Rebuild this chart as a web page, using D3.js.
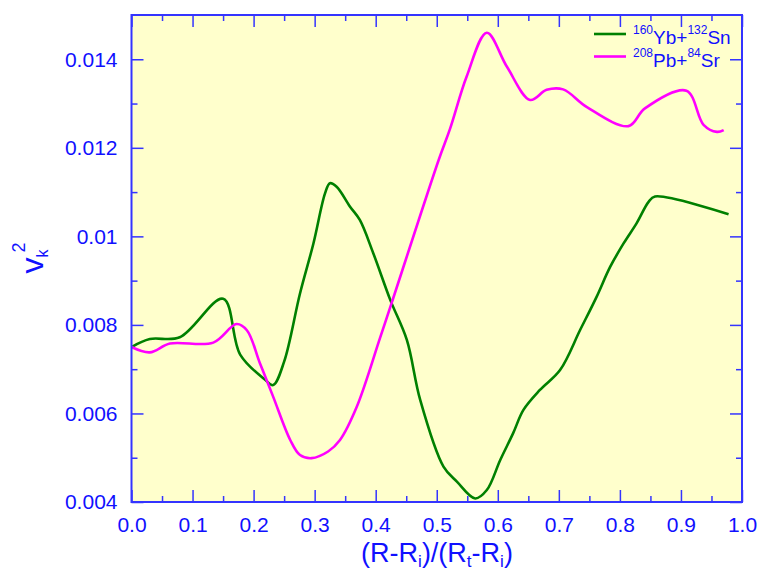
<!DOCTYPE html>
<html>
<head>
<meta charset="utf-8">
<script src="https://cdn.jsdelivr.net/npm/d3@7"></script>
<style>
  html, body { margin: 0; padding: 0; background: #ffffff; }
  svg { display: block; }
  text { font-family: "Liberation Sans", Arial, sans-serif; }
</style>
</head>
<body>
<svg id="chart" width="757" height="574"></svg>
<script>
// ---------- data ----------
const ybX = [0, 0.03, 0.079, 0.150, 0.178, 0.219, 0.232, 0.250, 0.276, 0.298, 0.317, 0.325, 0.336, 0.358, 0.374, 0.396, 0.424, 0.451, 0.473, 0.511, 0.533, 0.563, 0.582, 0.604, 0.625, 0.642, 0.669, 0.702, 0.735, 0.762, 0.784, 0.806, 0.8275, 0.847, 0.8575, 0.978];
const ybY = [0.00750, 0.00768, 0.00772, 0.00859, 0.00733, 0.00676, 0.00664, 0.00717, 0.00871, 0.00984, 0.01097, 0.01120, 0.01112, 0.01067, 0.01037, 0.00962, 0.00856, 0.00766, 0.00630, 0.00480, 0.00446, 0.00408, 0.00427, 0.00495, 0.00555, 0.00608, 0.00653, 0.00698, 0.00789, 0.00864, 0.00931, 0.00984, 0.01030, 0.01078, 0.01090, 0.01050];

const pbX = [0, 0.03, 0.063, 0.134, 0.172, 0.189, 0.2105, 0.232, 0.260, 0.276, 0.295, 0.322, 0.3415, 0.369, 0.407, 0.426, 0.503, 0.522, 0.549, 0.582, 0.615, 0.653, 0.680, 0.707, 0.746, 0.814, 0.841, 0.909, 0.937, 0.959, 0.970];
const pbY = [0.00750, 0.00738, 0.00758, 0.00760, 0.00802, 0.00788, 0.00713, 0.00638, 0.00540, 0.00506, 0.00499, 0.00514, 0.00540, 0.00615, 0.00770, 0.00849, 0.01172, 0.01244, 0.01361, 0.01460, 0.01383, 0.01308, 0.01331, 0.01332, 0.01292, 0.01249, 0.01289, 0.01329, 0.01252, 0.01236, 0.01240];

const xMajorTicks = [0, 0.1, 0.2, 0.3, 0.4, 0.5, 0.6, 0.7, 0.8, 0.9, 1.0];
const xTickLabels = ["0.0","0.1","0.2","0.3","0.4","0.5","0.6","0.7","0.8","0.9","1.0"];
const xMinorTicks = [0.05, 0.15, 0.25, 0.35, 0.45, 0.55, 0.65, 0.75, 0.85, 0.95];
const yMajorTicks = [0.004, 0.006, 0.008, 0.010, 0.012, 0.014];
const yTickLabels = ["0.004","0.006","0.008","0.01","0.012","0.014"];
const yMinorTicks = [0.005, 0.007, 0.009, 0.011, 0.013];

const seriesNames = [["160","Yb+","132","Sn"], ["208","Pb+","84","Sr"]];
const seriesColors = ["#008000", "#ff00ff"];

// ---------- layout ----------
const svg = d3.select("#chart");
const L = 131.5, R = 742, T = 15, B = 502;
const blue = "#1010ff";
const frameBlue = "#3434ff";

const x = d3.scaleLinear().domain([0, 1]).range([L, R]);
const y = d3.scaleLinear().domain([0.004, 0.015]).range([B, T]);

svg.append("rect").attr("x", L).attr("y", T).attr("width", R - L).attr("height", B - T)
  .attr("fill", "#ffffcc");

// ---------- lines ----------
const line = d3.line().x(d => x(d[0])).y(d => y(d[1])).curve(d3.curveCatmullRom.alpha(0.5));
const ybData = ybX.map((v, i) => [v, ybY[i]]);
const pbData = pbX.map((v, i) => [v, pbY[i]]);

const plot = svg.append("g");
plot.append("path").datum(ybData).attr("d", line).attr("fill", "none")
  .attr("stroke", seriesColors[0]).attr("stroke-width", 2.6).attr("stroke-linejoin", "round");
plot.append("path").datum(pbData).attr("d", line).attr("fill", "none")
  .attr("stroke", seriesColors[1]).attr("stroke-width", 2.6).attr("stroke-linejoin", "round");

// ---------- axes ----------
function styleAxis(g) {
  g.select(".domain").remove();
  g.selectAll(".tick line").attr("stroke", frameBlue).attr("stroke-width", 1.5);
  g.selectAll(".tick text").attr("fill", blue).attr("font-size", 21);
}

// bottom
svg.append("g").attr("transform", `translate(0,${B})`)
  .call(d3.axisBottom(x).tickValues(xMajorTicks).tickSize(-12).tickPadding(15)
        .tickFormat((d, i) => xTickLabels[i]))
  .call(styleAxis);
svg.append("g").attr("transform", `translate(0,${B})`)
  .call(d3.axisBottom(x).tickValues(xMinorTicks).tickSize(-6).tickFormat(""))
  .call(styleAxis);
// top
svg.append("g").attr("transform", `translate(0,${T})`)
  .call(d3.axisTop(x).tickValues(xMajorTicks).tickSize(-12).tickFormat(""))
  .call(styleAxis);
svg.append("g").attr("transform", `translate(0,${T})`)
  .call(d3.axisTop(x).tickValues(xMinorTicks).tickSize(-6).tickFormat(""))
  .call(styleAxis);
// left
svg.append("g").attr("transform", `translate(${L},0)`)
  .call(d3.axisLeft(y).tickValues(yMajorTicks).tickSize(-12).tickPadding(14)
        .tickFormat((d, i) => yTickLabels[i]))
  .call(styleAxis);
svg.append("g").attr("transform", `translate(${L},0)`)
  .call(d3.axisLeft(y).tickValues(yMinorTicks).tickSize(-6).tickFormat(""))
  .call(styleAxis);
// right
svg.append("g").attr("transform", `translate(${R},0)`)
  .call(d3.axisRight(y).tickValues(yMajorTicks).tickSize(-12).tickFormat(""))
  .call(styleAxis);
svg.append("g").attr("transform", `translate(${R},0)`)
  .call(d3.axisRight(y).tickValues(yMinorTicks).tickSize(-6).tickFormat(""))
  .call(styleAxis);

// frame
svg.append("rect").attr("x", L).attr("y", T).attr("width", R - L).attr("height", B - T)
  .attr("fill", "none").attr("stroke", frameBlue).attr("stroke-width", 2);

// ---------- axis titles ----------
const xt = svg.append("text").attr("x", 437).attr("y", 562).attr("text-anchor", "middle")
  .attr("fill", blue).attr("font-size", 27);
xt.append("tspan").text("(R-R");
xt.append("tspan").attr("font-size", 17).attr("dy", 5).text("i");
xt.append("tspan").attr("dy", -5).text(")/(R");
xt.append("tspan").attr("font-size", 17).attr("dy", 5).text("t");
xt.append("tspan").attr("dy", -5).text("-R");
xt.append("tspan").attr("font-size", 17).attr("dy", 5).text("i");
xt.append("tspan").attr("dy", -5).text(")");

const yt = svg.append("text").attr("transform", "translate(43,258) rotate(-90)")
  .attr("text-anchor", "middle").attr("fill", blue).attr("font-size", 32);
yt.append("tspan").text("v");
yt.append("tspan").attr("font-size", 16).attr("dy", 5).text("k");
yt.append("tspan").attr("font-size", 18).attr("dy", -23).attr("dx", -3).text("2");

// ---------- legend ----------
const legendRows = [{ ly: 34, tb: 44 }, { ly: 56.5, tb: 66.5 }];
seriesNames.forEach((parts, i) => {
  const r = legendRows[i];
  svg.append("line").attr("x1", 594).attr("x2", 626).attr("y1", r.ly).attr("y2", r.ly)
    .attr("stroke", seriesColors[i]).attr("stroke-width", 2.6);
  const t = svg.append("text").attr("x", 633).attr("y", r.tb).attr("fill", blue).attr("font-size", 19);
  t.append("tspan").attr("font-size", 12).attr("dy", -10).text(parts[0]);
  t.append("tspan").attr("dy", 10).text(parts[1]);
  t.append("tspan").attr("font-size", 12).attr("dy", -10).text(parts[2]);
  t.append("tspan").attr("dy", 10).text(parts[3]);
});
</script>
</body>
</html>
